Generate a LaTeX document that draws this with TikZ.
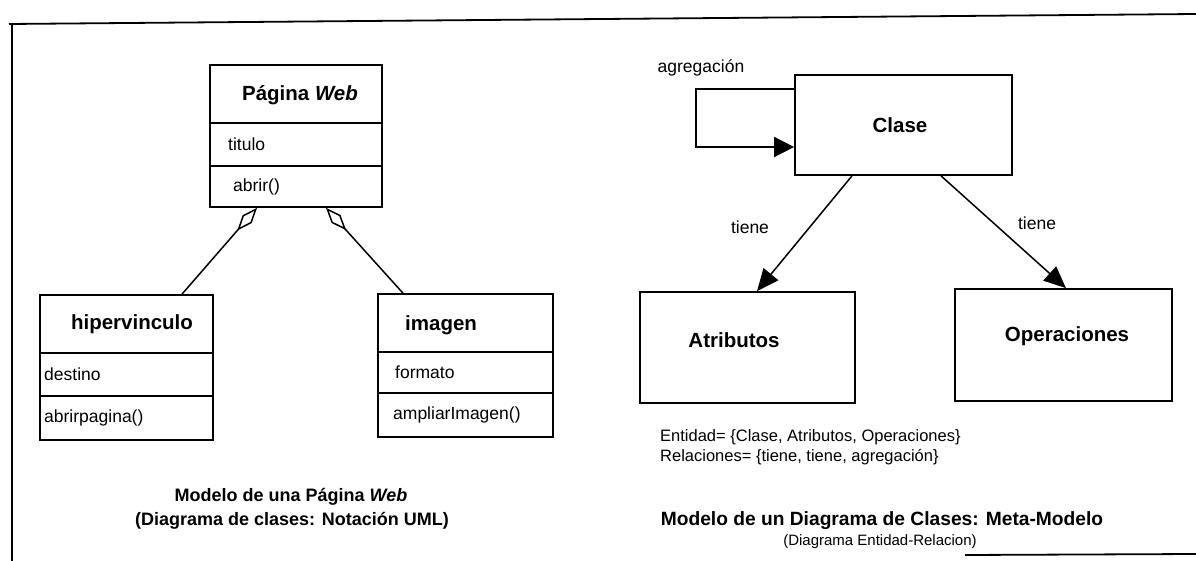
\documentclass[tikz,border=0pt]{standalone}
\usepackage{fontspec}
\setmainfont{Liberation Sans}
\usetikzlibrary{arrows.meta}
\begin{document}
\begin{tikzpicture}[x=1pt,y=-1pt,
  frame/.style={line width=1.8pt},
  box/.style={draw, line width=1.7pt, rectangle, inner sep=0pt},
  divider/.style={line width=1.6pt},
  hdr/.style={font=\fontsize{20.5}{24}\selectfont\bfseries, inner sep=0pt},
  txt/.style={font=\fontsize{17.5}{20}\selectfont, inner sep=0pt, anchor=west},
  lbl/.style={font=\fontsize{17.5}{20}\selectfont, inner sep=0pt},
  info/.style={font=\fontsize{16.5}{19}\selectfont, inner sep=0pt, anchor=west},
  subttl/.style={font=\fontsize{15}{18}\selectfont, inner sep=0pt},
  ttl/.style={font=\fontsize{18}{22}\selectfont\bfseries, inner sep=0pt},
  bigttl/.style={font=\fontsize{19.2}{22}\selectfont\bfseries, inner sep=0pt},
  agg/.style={line width=1.5pt, {Diamond[open, length=30pt, width=12pt]}-},
  rel/.style={line width=1.5pt, -{Triangle[length=22pt, width=19pt]}},
  loopline/.style={line width=1.5pt, -{Triangle[length=20pt, width=20pt]}}
]
\useasboundingbox (0,0) rectangle (1196,561);

% frame
\draw[frame] (9,24) -- (1196,14);
\draw[frame] (12,24) -- (12,561);
\draw[frame] (965,555) -- (1196,554);

% ---------- UML class diagram ----------
\node[box, minimum width=172pt, minimum height=142pt] (pw) at (296,136) {};
\draw[divider] (pw.west |- 0,123) -- (pw.east |- 0,123);
\draw[divider] (pw.west |- 0,166) -- (pw.east |- 0,166);
\node[hdr] (pwh) at (300,95) {Página \textit{Web}};
\node[txt] (pwa) at (228,144.5) {titulo};
\node[txt] (pwm) at (233,186.5) {abrir()};

\node[box, minimum width=173pt, minimum height=145pt] (hv) at (126.5,367.5) {};
\draw[divider] (hv.west |- 0,353) -- (hv.east |- 0,353);
\draw[divider] (hv.west |- 0,396) -- (hv.east |- 0,396);
\node[hdr] (hvh) at (132,324) {hipervinculo};
\node[txt] (hva) at (44,374.5) {destino};
\node[txt] (hvm) at (44,418) {abrirpagina()};

\node[box, minimum width=175pt, minimum height=143pt] (im) at (465.5,365.5) {};
\draw[divider] (im.west |- 0,352) -- (im.east |- 0,352);
\draw[divider] (im.west |- 0,393) -- (im.east |- 0,393);
\node[hdr, anchor=west] (imh) at (405,325) {imagen};
\node[txt] (ima) at (395,372.5) {formato};
\node[txt] (imm) at (393,415) {ampliarImagen()};

\draw[agg] ([xshift=-39pt]pw.south) -- ([xshift=55.5pt]hv.north);
\draw[agg] ([xshift=30pt]pw.south) -- ([xshift=-62.5pt]im.north);

\node[ttl] (t1) at (291,497) {Modelo de una Página \textit{Web}};
\node[ttl] (t2) at (292,521) {(Diagrama de clases: Notación UML)};

% ---------- Meta-model ----------
\node[box, minimum width=217pt, minimum height=100pt] (cl) at (903.5,125) {};
\node[hdr] (clh) at (900,125) {Clase};
\node[box, minimum width=215pt, minimum height=111pt] (atr) at (747.5,347.5) {};
\node[hdr] (atrh) at (734,340) {Atributos};
\node[box, minimum width=217pt, minimum height=112pt] (op) at (1063.5,345) {};
\node[hdr] (oph) at (1067,336) {Operaciones};

\coordinate (l1) at (696,89);
\coordinate (l2) at (696,147);
\draw[loopline] (cl.west |- l1) -- (l1) -- (l2) -- (cl.west |- l2);
\node[lbl] (agl) at (701,68) {agregación};

\draw[rel] ([xshift=-51.5pt]cl.south) -- ([xshift=9.5pt]atr.north);
\draw[rel] ([xshift=37.5pt]cl.south) -- ([xshift=2.5pt]op.north);
\node[lbl] (tl1) at (750,227) {tiene};
\node[lbl] (tl2) at (1037,223) {tiene};

\node[info] (e1) at (660,437) {Entidad= \{Clase, Atributos, Operaciones\}};
\node[info] (e2) at (660,457) {Relaciones= \{tiene, tiene, agregación\}};

\node[bigttl] (t3) at (882,521) {Modelo de un Diagrama de Clases: Meta-Modelo};
\node[subttl] (t4) at (880,542) {(Diagrama Entidad-Relacion)};
\end{tikzpicture}
\end{document}
